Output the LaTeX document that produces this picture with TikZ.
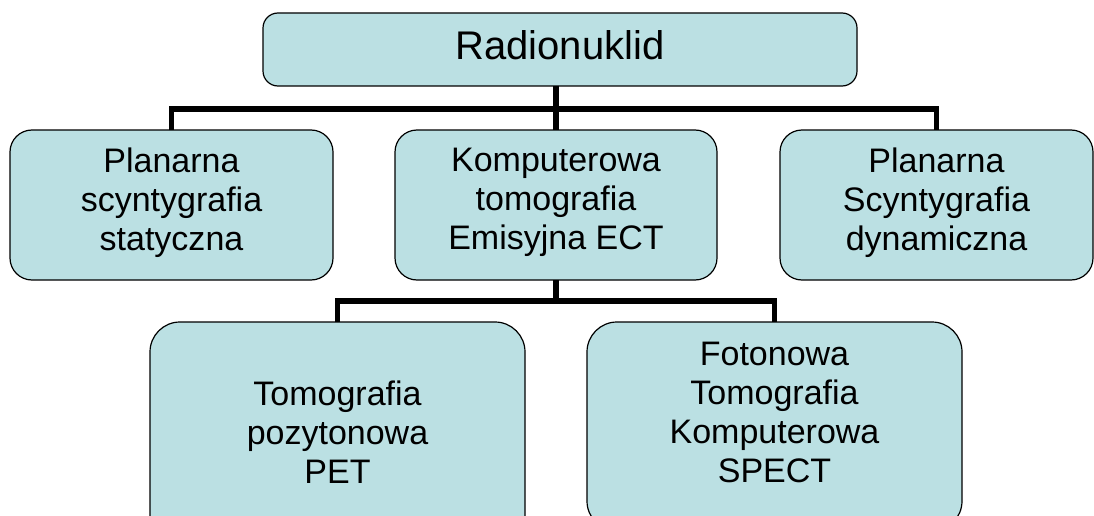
\documentclass[tikz,border=0pt]{standalone}
\usepackage{fontspec}
\setmainfont{Liberation Sans}
\usepackage{tikz}
\usetikzlibrary{positioning}

\definecolor{boxfill}{RGB}{187,224,227}

\begin{document}
\begin{tikzpicture}[x=1pt, y=-1pt,
                    box/.style={draw, line width=1.2pt, fill=boxfill, rounded corners=#1,
                                align=center, inner sep=0pt, outer sep=0pt,
                                font=\fontsize{34}{39}\selectfont,
                                execute at begin node=\strut, execute at end node=\strut},
                    box/.default=22pt,
                    link/.style={line width=5.5pt}
                    ]
    \useasboundingbox (0,0) rectangle (1094,516);
    \clip (0,0) rectangle (1094,516);
    %top node
    \node[box=15pt, minimum width=594pt, minimum height=73pt,
          font=\fontsize{40}{48}\selectfont] at (560,49.5) (radio) {Radionuklid};
    %second row
    \node[box, minimum width=323pt, minimum height=150pt] at (171.5,205) (static)
        {Planarna\\ scyntygrafia\\ statyczna};
    \node[box, minimum width=322pt, minimum height=150pt] at (556,205) (ect)
        {Komputerowa\\ tomografia\\ Emisyjna ECT};
    \node[box, minimum width=313pt, minimum height=150pt] at (936.5,205) (dynamic)
        {Planarna\\ Scyntygrafia\\ dynamiczna};
    %third row (cut off at the bottom)
    \node[box=30pt, minimum width=375pt, minimum height=232pt] at (337.5,438) (pet)
        {Tomografia\\ pozytonowa\\ PET};
    \node[box=30pt, minimum width=375pt, minimum height=209pt] at (774.5,426.5) (spect)
        {Fotonowa\\ Tomografia\\ Komputerowa\\ SPECT\rule[-28pt]{0pt}{0pt}};

    %connectors
    \coordinate (bus1) at (556,109);
    \coordinate (bus2) at (556,301);
    \draw[link] (radio.south -| ect.north) -- (ect.north);
    \draw[link] (static.north) |- (bus1) -| (dynamic.north);
    \draw[link] (ect.south) -- (bus2);
    \draw[link] (pet.north) |- (bus2) -| (spect.north);
\end{tikzpicture}
\end{document}
